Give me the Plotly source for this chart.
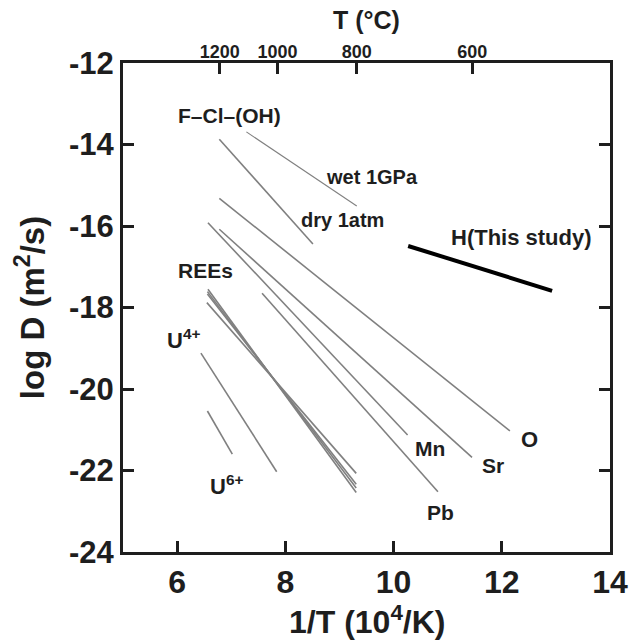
import plotly.graph_objects as go

# Arrhenius lines: log D versus 1/T (10^4/K), each line given by its two end points
line_names = ["wet 1GPa", "dry 1atm", "O", "Sr", "Mn", "Pb",
              "REE a", "REE b", "REE c", "REE d", "U4+", "U6+"]
x_start = [7.28, 6.78, 6.78, 6.78, 6.57, 7.57, 6.57, 6.56, 6.56, 6.55, 6.44, 6.56]
x_end = [9.32, 8.51, 12.15, 11.45, 10.26, 10.82, 9.31, 9.31, 9.31, 9.31, 7.84, 7.02]
y_start = [-13.69, -13.87, -15.32, -16.08, -15.92, -17.65,
           -17.55, -17.61, -17.67, -17.88, -19.12, -20.54]
y_end = [-15.51, -16.44, -21.03, -21.68, -21.13, -22.52,
         -22.54, -22.43, -22.34, -22.07, -22.03, -21.60]

# hydrogen diffusion (this study)
h_x = [10.27, 12.93]
h_y = [-16.49, -17.59]

# temperature scale on the top axis
temps_c = [1200, 1000, 800, 600]

# tick labels
x_ticks = [6, 8, 10, 12, 14]
y_ticks = [-24, -22, -20, -18, -16, -14, -12]

FONT = "Liberation Sans, Arial, sans-serif"
INK = "#1e1e1e"
GRAY = "#808080"

fig = go.Figure()

for i, name in enumerate(line_names):
    fig.add_trace(go.Scatter(
        x=[x_start[i], x_end[i]], y=[y_start[i], y_end[i]],
        mode="lines", name=name, showlegend=False, hoverinfo="skip",
        line=dict(color=GRAY, width=1.1 if name == "wet 1GPa" else 1.6),
    ))

fig.add_trace(go.Scatter(
    x=h_x, y=h_y, mode="lines", name="H", showlegend=False,
    line=dict(color="black", width=4),
))

# empty trace that brings the top temperature axis into the subplot
fig.add_trace(go.Scatter(x=[], y=[], xaxis="x2", yaxis="y", showlegend=False))

# text labels beside the lines: (text, x, y, size)
labels = [
    ("F–Cl–(OH)", 6.96, -13.28, 21),
    ("wet 1GPa", 9.61, -14.80, 20),
    ("dry 1atm", 9.06, -15.85, 20),
    ("REEs", 6.53, -17.09, 21),
    ("H(This study)", 12.37, -16.27, 22),
    ("O", 12.52, -21.25, 22),
    ("Mn", 10.68, -21.47, 21),
    ("Sr", 11.83, -21.87, 21),
    ("Pb", 10.86, -23.02, 21),
    ("U<sup>4+</sup>", 6.11, -18.77, 22),
    ("U<sup>6+</sup>", 6.91, -22.36, 22),
]
for text, lx, ly, size in labels:
    fig.add_annotation(
        x=lx, y=ly, text=text, showarrow=False, xref="x", yref="y",
        font=dict(family=FONT, size=size, color=INK, weight="bold"),
    )

# bottom axis title, centred under the plot
fig.add_annotation(
    x=0.5, y=-0.183, xref="paper", yref="paper", xanchor="center", yanchor="bottom",
    text="1/T (10<sup>4</sup>/K)", showarrow=False, borderpad=0,
    font=dict(family=FONT, size=32, color=INK, weight="bold"),
)
# top axis title for the temperature scale
fig.add_annotation(
    x=0.5, y=1.088, xref="paper", yref="paper", xanchor="center", yanchor="middle",
    text="T (°C)", showarrow=False,
    font=dict(family=FONT, size=25, color=INK, weight="bold"),
)

axis_common = dict(
    showgrid=False, zeroline=False, showline=True, linecolor=INK, linewidth=3,
    ticks="inside", ticklen=11, tickwidth=3, tickcolor=INK, automargin=False,
)

fig.update_layout(
    width=640, height=644,
    margin=dict(l=123, r=30, t=63, b=92),
    paper_bgcolor="white", plot_bgcolor="white",
    font=dict(family=FONT, color=INK, weight="bold"),
    xaxis=dict(
        range=[5, 14], tickvals=x_ticks, ticktext=[str(v) for v in x_ticks],
        mirror=True, tickfont=dict(size=32, family=FONT, weight="bold"),
        **axis_common,
    ),
    xaxis2=dict(
        range=[5, 14], overlaying="x", side="top",
        tickvals=[1e4 / (t + 273.15) for t in temps_c],
        ticktext=[str(t) for t in temps_c],
        tickfont=dict(size=18, family=FONT, weight="bold"),
        showgrid=False, zeroline=False, showline=False, automargin=False,
        ticks="inside", ticklen=11, tickwidth=3, tickcolor=INK,
    ),
    yaxis=dict(
        range=[-24, -12], tickvals=y_ticks, ticktext=[str(v) for v in y_ticks],
        mirror="ticks", tickfont=dict(size=31, family=FONT, weight="bold"),
        title=dict(text="log D (m<sup>2</sup>/s)",
                   font=dict(size=33, family=FONT, weight="bold")),
        **axis_common,
    ),
)

fig.write_html("out.html")
